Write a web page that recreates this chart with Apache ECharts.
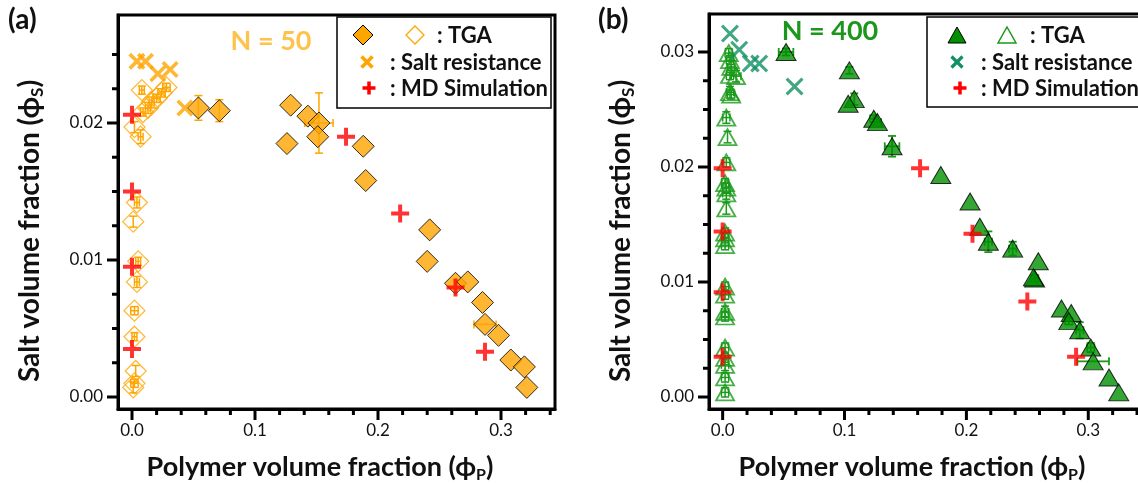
<!DOCTYPE html>
<html><head><meta charset="utf-8">
<script src="https://cdn.jsdelivr.net/npm/echarts@6/dist/echarts.min.js"></script>
<style>html,body{margin:0;padding:0;background:#fff}#c{width:1138px;height:485px}</style>
</head><body><div id="c"></div>
<script>
// ---------- DATA: panel (a) N = 50 ----------  [phiP, phiS, errP, errS]
const tgaFilledA = [
  [0.054,0.0211,0,0.0009],[0.071,0.0209,0,0.0008],[0.126,0.0185,0,0],[0.129,0.0213,0,0],
  [0.143,0.0205,0,0],[0.152,0.0200,0.0115,0.0022],[0.151,0.0190,0,0],[0.188,0.0183,0,0],
  [0.190,0.0158,0,0],[0.242,0.0122,0,0],[0.240,0.0099,0,0],[0.263,0.0083,0,0],
  [0.273,0.0084,0,0],[0.285,0.0069,0,0],[0.287,0.0053,0.009,0],[0.298,0.0045,0,0],
  [0.308,0.0027,0,0],[0.319,0.0022,0,0],[0.321,0.0007,0,0]
];
const tgaHollowA = [
  [0.008,0.0224,0.002,0.0003],[0.028,0.0226,0.003,0.0003],[0.024,0.0222,0.003,0.0003],
  [0.020,0.0218,0.003,0.0003],[0.016,0.0215,0.002,0.0004],[0.013,0.0211,0.002,0.0004],
  [0.009,0.0208,0.002,0.0003],[0.002,0.0197,0,0.0004],[0.007,0.0190,0.002,0.0005],
  [0.004,0.0142,0.002,0.0004],[0.001,0.0128,0,0.0004],[0.005,0.0099,0.002,0.0003],
  [0.004,0.0084,0.002,0.0004],[0.002,0.0063,0.003,0.0003],[0.002,0.0044,0.002,0.0003],
  [0.003,0.0019,0,0.0004],[0.002,0.0010,0.003,0.0003],[0.001,0.0007,0,0.0004]
];
const saltResA = [[0.004,0.0245],[0.011,0.0245],[0.021,0.0236],[0.031,0.0239],[0.043,0.0211]];
const mdSimA = [[0,0.0206],[0,0.0150],[0,0.0095],[0,0.0035],[0.174,0.0190],[0.218,0.0134],[0.263,0.0080],[0.287,0.0033]];

// ---------- DATA: panel (b) N = 400 ----------
const tgaFilledB = [
  [0.052,0.0300,0.006,0.0003],[0.104,0.0284,0,0.0003],[0.108,0.0259,0,0.0005],[0.103,0.0255,0,0],
  [0.124,0.0242,0.003,0.0003],[0.127,0.0239,0.003,0],[0.139,0.0218,0.006,0.0009],[0.179,0.0193,0,0],
  [0.203,0.0170,0,0],[0.211,0.0148,0,0],[0.218,0.0135,0.003,0.0009],[0.238,0.0129,0.003,0.0006],
  [0.259,0.0118,0,0],[0.256,0.0103,0.003,0.0003],[0.255,0.0104,0,0],[0.278,0.0077,0,0],
  [0.286,0.0073,0,0],[0.284,0.0066,0.003,0.0003],[0.293,0.0058,0.003,0.0007],[0.302,0.0043,0.003,0.0004],
  [0.304,0.0031,0.013,0],[0.317,0.0017,0,0],[0.325,0.0004,0,0]
];
const tgaHollowB = [
  [0.005,0.0299,0.003,0.0004],[0.006,0.0293,0.003,0.0004],[0.007,0.0287,0.003,0.0005],
  [0.011,0.0279,0.004,0.0005],[0.006,0.0280,0.003,0.0004],[0.006,0.0265,0.003,0.0005],
  [0.007,0.0263,0.003,0.0004],[0.003,0.0243,0.003,0.0005],[0.004,0.0226,0,0.0005],
  [0.003,0.0204,0.003,0.0004],[0.002,0.0186,0.003,0.0004],[0.003,0.0182,0.003,0.0004],
  [0.003,0.0177,0.003,0.0005],[0.003,0.0164,0,0.0005],[0.002,0.0143,0.003,0.0004],
  [0.002,0.0138,0.003,0.0004],[0.002,0.0132,0.003,0.0004],[0.002,0.0096,0.003,0.0004],
  [0.002,0.0089,0.003,0.0004],[0.002,0.0074,0.003,0.0005],[0.002,0.0070,0.003,0.0004],
  [0.002,0.0043,0.003,0.0004],[0.002,0.0034,0.003,0.0004],[0.002,0.0028,0.003,0.0005],
  [0.002,0.0017,0.003,0.0004],[0.002,0.0004,0.003,0.0004]
];
const saltResB = [[0.006,0.0316],[0.0136,0.0302],[0.023,0.0290],[0.030,0.0290],[0.059,0.0270]];
const mdSimB = [[0,0.0199],[0,0.0144],[0,0.0091],[0,0.0035],[0.162,0.0199],[0.205,0.0142],[0.250,0.0083],[0.290,0.0035]];

// ---------- TICKS ----------
const xMajorTicks = [0, 0.1, 0.2, 0.3];
const xMinorTicks = [0.02,0.04,0.06,0.08,0.12,0.14,0.16,0.18,0.22,0.24,0.26,0.28,0.32,0.34];
const yMajorTicksA = [0, 0.01, 0.02];
const yMinorTicksA = [0.0025,0.005,0.0075,0.0125,0.015,0.0175,0.0225,0.025];
const yMajorTicksB = [0, 0.01, 0.02, 0.03];
const yMinorTicksB = [0.0025,0.005,0.0075,0.0125,0.015,0.0175,0.0225,0.025,0.0275];

// ---------- STYLE ----------
const F = 'Lato, "DejaVu Sans", sans-serif';
const ORANGE = '#FFA500', RED = '#FF0000', GREEN = '#009000', GREEN_H = '#1A9A1A', TEAL = '#129063';
const PLUS = 'path://M7.8,0H12.2V7.8H20V12.2H12.2V20H7.8V12.2H0V7.8H7.8Z';
const CROSS = 'path://M0,3L3,0L10,7L17,0L20,3L13,10L20,17L17,20L10,13L3,20L0,17L7,10Z';
const CROSS_B = 'path://M0,2.4L2.4,0L10,7.6L17.6,0L20,2.4L12.4,10L20,17.6L17.6,20L10,12.4L2.4,20L0,17.6L7.6,10Z';

// panel boxes (layout)
const boxA = { left: 118, top: 15, width: 437, height: 394 };
const boxB = { left: 709, top: 14, width: 440, height: 395 };
const xMinA = (118-132)/1230, xMaxA = (555-132)/1230, yMinA = (397-409)/13700, yMaxA = (397-15)/13700;
const xMinB = (709-723)/1250, xMaxB = (1149-723)/1250, yMinB = (397-409)/11500, yMaxB = (397-14)/11500;

function axis(grid, min, max, ticks, dec, margin) {
  return {
    type: 'value', gridIndex: grid, min, max,
    axisLine: { show: true, onZero: false, lineStyle: { color: '#000', width: 3 } },
    splitLine: { show: false },
    axisTick: { show: false },
    axisLabel: { show: true, customValues: ticks, margin, formatter: v => v.toFixed(dec),
      fontSize: 17, fontFamily: F, color: '#111' }
  };
}

function errSeries(data, xi, yi, color, w) {
  return {
    type: 'custom', xAxisIndex: xi, yAxisIndex: yi, data, z: 1, silent: true,
    renderItem(params, api) {
      const x = api.value(0), y = api.value(1), xe = api.value(2), ye = api.value(3);
      const ch = []; const cap = 4;
      const st = { stroke: color, lineWidth: w };
      if (ye > 0) {
        const a = api.coord([x, y - ye]), b = api.coord([x, y + ye]);
        ch.push({ type: 'line', shape: { x1: a[0], y1: a[1], x2: b[0], y2: b[1] }, style: st });
        ch.push({ type: 'line', shape: { x1: a[0]-cap, y1: a[1], x2: a[0]+cap, y2: a[1] }, style: st });
        ch.push({ type: 'line', shape: { x1: b[0]-cap, y1: b[1], x2: b[0]+cap, y2: b[1] }, style: st });
      }
      if (xe > 0) {
        const a = api.coord([x - xe, y]), b = api.coord([x + xe, y]);
        ch.push({ type: 'line', shape: { x1: a[0], y1: a[1], x2: b[0], y2: b[1] }, style: st });
        ch.push({ type: 'line', shape: { x1: a[0], y1: a[1]-cap, x2: a[0], y2: a[1]+cap }, style: st });
        ch.push({ type: 'line', shape: { x1: b[0], y1: b[1]-cap, x2: b[0], y2: b[1]+cap }, style: st });
      }
      return { type: 'group', children: ch };
    }
  };
}

function sc(data, xi, yi, symbol, size, itemStyle, z) {
  return { type: 'scatter', xAxisIndex: xi, yAxisIndex: yi, data, symbol, symbolSize: size, itemStyle, z: z || 2, silent: true };
}

function title(x, y, main, sub, rot, fs) {
  return {
    type: 'text', x, y, rotation: rot || 0, silent: true,
    style: {
      text: '{t|' + main + '}{s|' + sub + '}{t|)}', align: 'center', verticalAlign: 'middle',
      rich: {
        t: { fontSize: fs, fontWeight: 'bold', fontFamily: F, fill: '#111', lineHeight: fs + 5 },
        s: { fontSize: Math.round(fs * 0.6), fontWeight: 'bold', fontFamily: F, fill: '#111', lineHeight: Math.round(fs * 0.6), verticalAlign: 'bottom' }
      }
    }
  };
}
function txt(x, y, text, size, color, align) {
  return { type: 'text', x, y, silent: true, style: { text, fontSize: size, fontFamily: F, fontWeight: 'bold', fill: color, align: align || 'left', verticalAlign: 'middle' } };
}
function poly(points, fill, stroke, lw) {
  return { type: 'polygon', shape: { points }, silent: true, style: { fill, stroke, lineWidth: lw } };
}
function lineG(x1, y1, x2, y2, color, w) {
  return { type: 'line', shape: { x1, y1, x2, y2 }, silent: true, style: { stroke: color, lineWidth: w } };
}
function crossG(cx, cy, r, color, w) { return [lineG(cx-r, cy-r, cx+r, cy+r, color, w), lineG(cx-r, cy+r, cx+r, cy-r, color, w)]; }
function plusG(cx, cy, r, color, w) { return [lineG(cx-r, cy, cx+r, cy, color, w), lineG(cx, cy-r, cx, cy+r, color, w)]; }
function frame(b) {
  return { type: 'rect', shape: { x: b.left, y: b.top, width: b.width, height: b.height }, silent: true,
    style: { fill: 'none', stroke: '#000', lineWidth: 3 } };
}

const graphics = [
  frame(boxA), frame(boxB),
  txt(8, 20, '(a)', 28, '#111'), txt(598, 20, '(b)', 28, '#111'),
  title(320, 467, 'Polymer volume fraction (ϕ', 'P', 0, 27), title(912, 467, 'Polymer volume fraction (ϕ', 'P', 0, 27),
  title(30, 231, 'Salt volume fraction (ϕ', 'S', Math.PI/2, 28), title(621, 231, 'Salt volume fraction (ϕ', 'S', Math.PI/2, 28),
  txt(271, 41, 'N = 50', 27, '#FFC34D', 'center'), txt(830, 31, 'N = 400', 27, '#1C961C', 'center'),
  // legend (a)
  { type: 'rect', shape: { x: 337, y: 17, width: 214, height: 91 }, silent: true, style: { fill: '#fff', stroke: '#000', lineWidth: 1.5 } },
  poly([[363,25],[373,35],[363,45],[353,35]], ORANGE, '#000', 1),
  poly([[415,26],[424,35],[415,44],[406,35]], 'none', ORANGE, 1.3),
  txt(437, 36, ': TGA', 22, '#111'),
  ...crossG(367, 62, 5.5, ORANGE, 3.5), txt(390, 63, ': Salt resistance', 22, '#111'),
  ...plusG(369, 88, 6.5, RED, 3.5), txt(390, 89, ': MD Simulation', 22, '#111'),
  // legend (b)
  { type: 'rect', shape: { x: 927, y: 17, width: 260, height: 90 }, silent: true, style: { fill: '#fff', stroke: '#000', lineWidth: 1.5 } },
  poly([[957,27],[966,43],[948,43]], GREEN, '#000', 1),
  poly([[1007,27],[1016,43],[998,43]], 'none', GREEN_H, 1.5),
  txt(1030, 36, ': TGA', 22, '#111'),
  ...crossG(957, 62, 5.5, TEAL, 3.2), txt(981, 63, ': Salt resistance', 22, '#111'),
  ...plusG(960, 88, 6.5, RED, 3.5), txt(981, 89, ': MD Simulation', 22, '#111')
];

const option = {
  animation: false,
  grid: [ { ...boxA }, { ...boxB } ],
  xAxis: [ axis(0, xMinA, xMaxA, xMajorTicks, 1, 13), axis(1, xMinB, xMaxB, xMajorTicks, 1, 13) ],
  yAxis: [ axis(0, yMinA, yMaxA, yMajorTicksA, 2, 15), axis(1, yMinB, yMaxB, yMajorTicksB, 2, 15) ],
  series: [
    errSeries(tgaHollowA, 0, 0, ORANGE, 1.5),
    sc(tgaHollowA, 0, 0, 'diamond', 21, { color: 'rgba(0,0,0,0)', borderColor: ORANGE, borderWidth: 1.2 }),
    errSeries(tgaFilledA, 0, 0, ORANGE, 1.5),
    sc(tgaFilledA, 0, 0, 'diamond', 22, { color: ORANGE, borderColor: '#000', borderWidth: 1 }, 3),
    sc(saltResA, 0, 0, CROSS, 17, { color: ORANGE }, 4),
    sc(mdSimA, 0, 0, PLUS, 18, { color: RED }, 5),
    errSeries(tgaHollowB, 1, 1, GREEN_H, 1.5),
    sc(tgaHollowB, 1, 1, 'triangle', [18, 16], { color: 'rgba(0,0,0,0)', borderColor: GREEN_H, borderWidth: 1.8 }),
    errSeries(tgaFilledB, 1, 1, GREEN_H, 1.8),
    sc(tgaFilledB, 1, 1, 'triangle', [20, 17], { color: GREEN, borderColor: '#000', borderWidth: 1 }, 3),
    sc(saltResB, 1, 1, CROSS_B, 18, { color: TEAL }, 4),
    sc(mdSimB, 1, 1, PLUS, 18, { color: RED }, 5)
  ]
};
const chart = echarts.init(document.getElementById('c'), null, { renderer: 'canvas' });
chart.setOption(option);

// tick marks positioned through the axes' own scales
const tickG = [];
function addTicks(gridIndex, values, dim, crossAt, len) {
  values.forEach(v => {
    const p = chart.convertToPixel({ gridIndex }, dim === 'x' ? [v, crossAt] : [crossAt, v]);
    if (!p) return;
    tickG.push(dim === 'x' ? lineG(p[0], p[1], p[0], p[1] + len, '#000', 3)
                           : lineG(p[0], p[1], p[0] - len, p[1], '#000', 3));
  });
}
addTicks(0, xMajorTicks, 'x', yMinA, 11); addTicks(0, xMinorTicks, 'x', yMinA, 6);
addTicks(0, yMajorTicksA, 'y', xMinA, 11); addTicks(0, yMinorTicksA, 'y', xMinA, 6);
addTicks(1, xMajorTicks, 'x', yMinB, 11); addTicks(1, xMinorTicks, 'x', yMinB, 6);
addTicks(1, yMajorTicksB, 'y', xMinB, 11); addTicks(1, yMinorTicksB, 'y', xMinB, 6);

const allGraphics = graphics.concat(tickG);
allGraphics.forEach(g => { g.z = 100; });
chart.setOption({ graphic: allGraphics });
</script></body></html>
